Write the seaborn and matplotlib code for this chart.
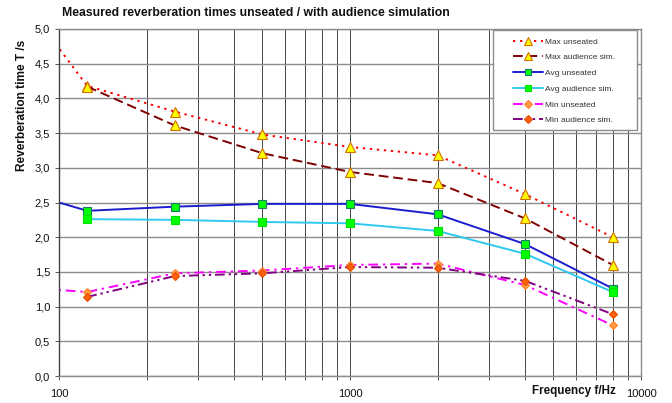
import numpy as np
import pandas as pd
import matplotlib
matplotlib.use("Agg")
import matplotlib.pyplot as plt
import matplotlib.ticker as mticker
from matplotlib.patches import Rectangle
import seaborn as sns

# octave band centre frequencies (63 Hz lies left of the visible axis)
freq_unseated = [63, 125, 250, 500, 1000, 2000, 4000, 8000]
freq_audience = [125, 250, 500, 1000, 2000, 4000, 8000]

max_unseated = [5.84, 4.18, 3.81, 3.48, 3.30, 3.18, 2.62, 2.00]
max_audience = [4.17, 3.61, 3.21, 2.94, 2.78, 2.27, 1.60]
avg_unseated = [2.75, 2.38, 2.44, 2.48, 2.48, 2.33, 1.90, 1.26]
avg_audience = [2.26, 2.25, 2.22, 2.20, 2.09, 1.76, 1.21]
min_unseated = [1.30, 1.21, 1.48, 1.52, 1.60, 1.62, 1.31, 0.73]
min_audience = [1.14, 1.44, 1.48, 1.57, 1.56, 1.37, 0.89]

y_ticks = [0.0, 0.5, 1.0, 1.5, 2.0, 2.5, 3.0, 3.5, 4.0, 4.5, 5.0]
y_tick_labels = ["0,0", "0,5", "1,0", "1,5", "2,0", "2,5", "3,0", "3,5", "4,0", "4,5", "5,0"]
x_ticks = [100, 1000, 10000]
x_tick_labels = ["100", "1000", "10000"]

title = "Measured reverberation times unseated / with audience simulation"
ylabel = "Reverberation time T /s"
xlabel = "Frequency f/Hz"

sns.set_theme(style="white")
plt.rcParams["font.family"] = ["Liberation Sans", "DejaVu Sans"]

W, H = 672, 403
fig = plt.figure(figsize=(W / 100, H / 100), dpi=100)
ax = fig.add_axes([59 / W, 1 - 376 / H, (641 - 59) / W, (376 - 29) / H])

series = [
    ("Max unseated", freq_unseated, max_unseated,
     dict(color="#ff0000", linestyle=(0, (1.2, 2.4)), marker="^",
          markerfacecolor="#ffff00", markeredgecolor="#d07000", markersize=6.5)),
    ("Max audience sim.", freq_audience, max_audience,
     dict(color="#800000", linestyle=(0, (5, 2.5)), marker="^",
          markerfacecolor="#ffff00", markeredgecolor="#d07000", markersize=6.5)),
    ("Avg unseated", freq_unseated, avg_unseated,
     dict(color="#1c1cd0", linestyle="-", marker="s",
          markerfacecolor="#00ff00", markeredgecolor="#1a7a6a", markersize=5.5)),
    ("Avg audience sim.", freq_audience, avg_audience,
     dict(color="#2ec8f0", linestyle="-", marker="s",
          markerfacecolor="#00ff00", markeredgecolor="#00e000", markersize=5.5)),
    ("Min unseated", freq_unseated, min_unseated,
     dict(color="#ff00ff", linestyle=(0, (5, 2.5, 1.2, 2.5)), marker="D",
          markerfacecolor="#ff9a40", markeredgecolor="#ff8030", markersize=4.5)),
    ("Min audience sim.", freq_audience, min_audience,
     dict(color="#800080", linestyle=(0, (5, 2, 1.2, 2, 1.2, 2)), marker="D",
          markerfacecolor="#ff6010", markeredgecolor="#e05000", markersize=4.5)),
]

for name, fx, fy, style in series:
    df = pd.DataFrame({"f": fx, "T": fy})
    sns.lineplot(data=df, x="f", y="T", ax=ax, label=name, estimator=None,
                 sort=False, linewidth=1.4, markeredgewidth=0.8, **style)

ax.set_xscale("log")
ax.set_xlim(100, 10000)
ax.set_ylim(0, 5)
ax.set_xticks(x_ticks)
ax.set_xticklabels(x_tick_labels)
ax.xaxis.set_minor_locator(mticker.LogLocator(base=10, subs=np.arange(2, 10)))
ax.xaxis.set_minor_formatter(mticker.NullFormatter())
ax.set_yticks(y_ticks)
ax.set_yticklabels(y_tick_labels)
ax.set_xlabel("")
ax.set_ylabel("")

ax.set_axisbelow(True)
ax.grid(axis="y", which="major", color="#8c8c8c", linewidth=1.0)
ax.grid(axis="x", which="both", color="#454545", linewidth=0.7)
ax.tick_params(axis="both", which="both", direction="out", length=3, width=0.7,
               color="#555555", left=True, bottom=True, labelsize=8,
               labelcolor="#111111")
ax.tick_params(axis="y", pad=3.5)
ax.tick_params(axis="x", pad=6.5)
for side in ["left", "bottom", "right", "top"]:
    ax.spines[side].set_color("#8c8c8c")
    ax.spines[side].set_linewidth(1.0)
ax.spines["left"].set_color("#444444")

# legend box
ax.add_patch(Rectangle((0.746, 0.709), 0.247, 0.288, transform=ax.transAxes,
                       facecolor="white", edgecolor="#8c8c8c", linewidth=1.0,
                       zorder=4))
leg = ax.legend(loc="upper left", bbox_to_anchor=(0.780, 0.975), frameon=False,
                fontsize=6, handlelength=3.6, handletextpad=0.3,
                labelspacing=0.95, borderpad=0, borderaxespad=0,
                markerscale=0.85)
leg.set_zorder(5)
for t in leg.get_texts():
    t.set_color("#333333")

fig.text(62 / W, 1 - 13 / H, title, fontsize=8.8, fontweight="bold",
         ha="left", va="center", color="#111111")
fig.text(22 / W, 1 - 105 / H, ylabel, fontsize=8.6, fontweight="bold",
         rotation=90, ha="center", va="center", color="#111111")
fig.text(532 / W, 1 - 391 / H, xlabel, fontsize=8.4, fontweight="bold",
         ha="left", va="center", color="#111111")

fig.savefig("out.png", dpi=100, facecolor="white")
